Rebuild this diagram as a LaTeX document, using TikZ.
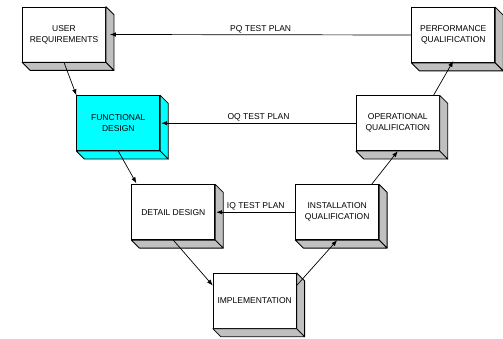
\documentclass[tikz,border=0pt]{standalone}
\usepackage{fontspec}
\setmainfont{Liberation Sans}
\usetikzlibrary{arrows.meta}
\definecolor{sidegray}{RGB}{192,192,192}
\definecolor{cyanfill}{RGB}{0,255,255}
\tikzset{
  stage/.style={draw=black, line width=0.8pt, fill=white, minimum width=83pt, minimum height=55pt,
    inner sep=0pt, align=center, font=\fontsize{8.5}{11}\selectfont},
  flow/.style={draw=black, line width=0.7pt, -{Latex[length=6pt,width=4.5pt]}},
  planlabel/.style={font=\fontsize{8.5}{10}\selectfont, inner sep=1.5pt, above}
}
\newcommand\boxdepth[2]{%
  \filldraw[fill=#2, draw=black, line width=0.8pt, line join=round]
    (#1.north east) -- ([shift={(8,8)}]#1.north east) -- ([shift={(8,8)}]#1.south east) -- (#1.south east) -- cycle;
  \filldraw[fill=#2, draw=black, line width=0.8pt, line join=round]
    (#1.south west) -- ([shift={(8,8)}]#1.south west) -- ([shift={(8,8)}]#1.south east) -- (#1.south east) -- cycle;
}
\begin{document}
\begin{tikzpicture}[x=1pt, y=-1pt]
\useasboundingbox (0,0) rectangle (503,339);
\node[stage] (ur) at (64,34.5) {USER\\REQUIREMENTS};
\boxdepth{ur}{sidegray}
\node[stage] (pq) at (453.3,35) {PERFORMANCE\\QUALIFICATION};
\boxdepth{pq}{sidegray}
\node[stage, fill=cyanfill] (fd) at (118.3,123.2) {FUNCTIONAL\\DESIGN};
\boxdepth{fd}{cyanfill}
\node[stage] (oq) at (397.8,123.2) {OPERATIONAL\\QUALIFICATION};
\boxdepth{oq}{sidegray}
\node[stage] (dd) at (173.3,212.2) {DETAIL DESIGN};
\boxdepth{dd}{sidegray}
\node[stage] (iq) at (337.2,212.2) {INSTALLATION\\QUALIFICATION};
\boxdepth{iq}{sidegray}
\node[stage] (im) at (254.7,300.8) {IMPLEMENTATION};
\boxdepth{im}{sidegray}

\draw[flow] (ur.south) -- (fd.north west);
\draw[flow] (fd.south) -- ([shift={(5,-1)}]dd.north west);
\draw[flow] (dd.south) -- (im.160);
\draw[flow] (im.20) -- (iq.south);
\draw[flow] (iq.39) -- (oq.south);
\draw[flow] (oq.38) -- ([yshift=2]pq.south);

\draw[flow] (pq.west) -- node[planlabel] {PQ TEST PLAN} ([xshift=4]ur.east);
\draw[flow] (oq.west) -- node[planlabel] {OQ TEST PLAN} ([xshift=1]fd.east);
\draw[flow] (iq.west) -- node[planlabel] {IQ TEST PLAN} ([xshift=1]dd.east);
\end{tikzpicture}
\end{document}
